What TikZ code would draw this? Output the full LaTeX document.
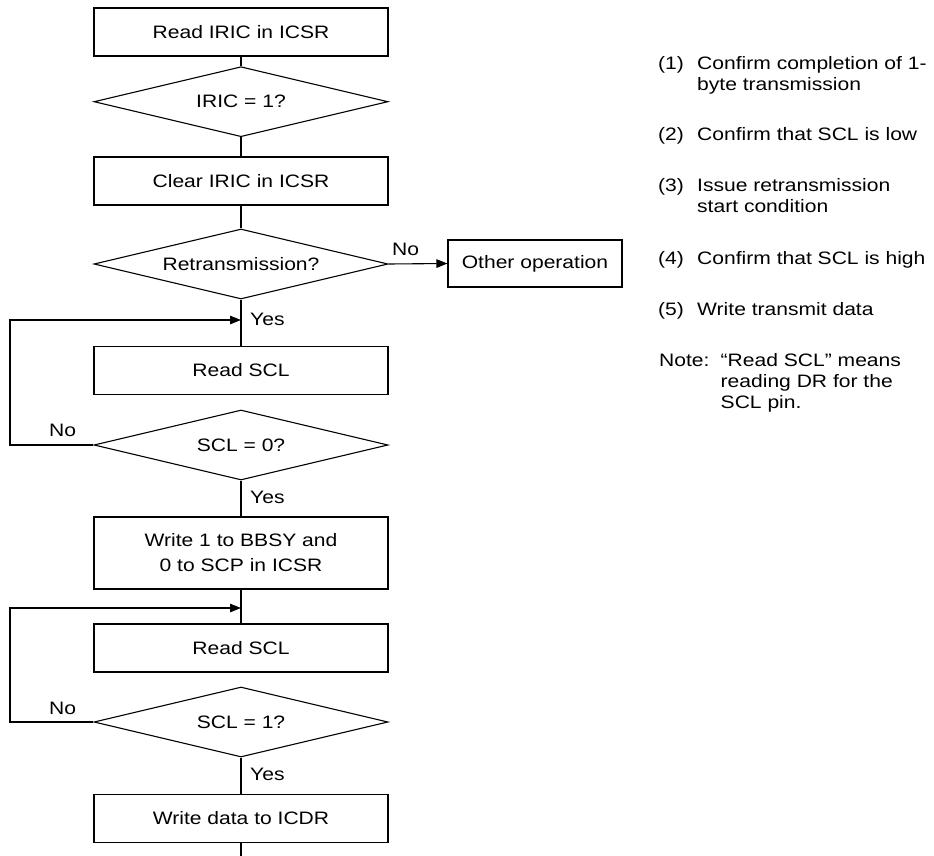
\documentclass[tikz,border=0pt]{standalone}
\usepackage{fontspec}
\setmainfont{Liberation Sans}[FakeStretch=1.17]
\usetikzlibrary{shapes.geometric,arrows.meta}
\begin{document}
\begin{tikzpicture}[x=1pt,y=-1pt,
  every node/.style={font=\fontsize{18}{25}\selectfont},
  box/.style={draw,line width=1.1pt,minimum width=294pt,minimum height=48pt,inner sep=0pt,align=center},
  dia/.style={draw,line width=1.1pt,shape=diamond,aspect=4.2,minimum width=294pt,minimum height=70pt,inner sep=0pt},
  lbl/.style={inner sep=0pt,anchor=base west},
  conn/.style={line width=1.1pt},
  arr/.style={line width=1.1pt,-{Triangle[length=11pt,width=8.5pt]}}]
\useasboundingbox (0,0) rectangle (934,856);
% flowchart
\node[box] (b1) at (241,32) {Read IRIC in ICSR};
\node[dia] (d1) at (241,101.7) {IRIC = 1?};
\node[box] (b2) at (241,181) {Clear IRIC in ICSR};
\node[dia] (d2) at (241,264) {Retransmission?};
\node[box,minimum width=174pt,minimum height=47pt] (oth) at (535,263.5) {Other operation};
\coordinate (j1) at (241,320);
\node[box] (b3) at (241,370.5) {Read SCL};
\node[dia] (d3) at (241,445) {SCL = 0?};
\node[box,minimum height=72pt] (b4) at (241,553) {Write 1 to BBSY and\\0 to SCP in ICSR};
\coordinate (j2) at (241,608);
\node[box] (b5) at (241,648) {Read SCL};
\node[dia] (d4) at (241,722) {SCL = 1?};
\node[box,minimum height=48.5pt] (b6) at (241,818.5) {Write data to ICDR};
\coordinate (fin) at (241,856);
\coordinate (l1) at (10,445);
\coordinate (l2) at (10,722);
% connectors
\draw[conn] (b1) -- (d1);
\draw[conn] (d1) -- (b2);
\draw[conn] (b2) -- (d2);
\draw[conn] (d2) -- (b3);
\draw[arr] (d2.east) -- (oth.west);
\draw[arr] (d3.west) -- (l1) |- (j1);
\draw[conn] (d3) -- (b4);
\draw[conn] (b4) -- (b5);
\draw[arr] (d4.west) -- (l2) |- (j2);
\draw[conn] (d4) -- (b6);
\draw[conn] (b6) -- (fin);
% labels
\node[lbl] (y1) at (250,325) {Yes};
\node[lbl] (y2) at (250,503) {Yes};
\node[lbl] (y3) at (250,780.5) {Yes};
\node[lbl] (n1) at (392,255) {No};
\node[lbl] (n2) at (49,436.5) {No};
\node[lbl] (n3) at (49,714) {No};
% notes
\node[lbl] (t1a) at (658,70) {(1)};
\node[lbl] (t1b) at (697,70) {Confirm completion of 1-};
\node[lbl] (t1c) at (697,91) {byte transmission};
\node[lbl] (t2a) at (658,141) {(2)};
\node[lbl] (t2b) at (697,141) {Confirm that SCL is low};
\node[lbl] (t3a) at (658,191.5) {(3)};
\node[lbl] (t3b) at (697,191.5) {Issue retransmission};
\node[lbl] (t3c) at (697,212.5) {start condition};
\node[lbl] (t4a) at (658,264) {(4)};
\node[lbl] (t4b) at (697,264) {Confirm that SCL is high};
\node[lbl] (t5a) at (658,315) {(5)};
\node[lbl] (t5b) at (697,315) {Write transmit data};
\node[lbl] (nta) at (659,366) {Note:};
\node[lbl] (ntb) at (720.5,366) {“Read SCL” means};
\node[lbl] (ntc) at (720.5,387) {reading DR for the};
\node[lbl] (ntd) at (720.5,408) {SCL pin.};
\end{tikzpicture}
\end{document}
